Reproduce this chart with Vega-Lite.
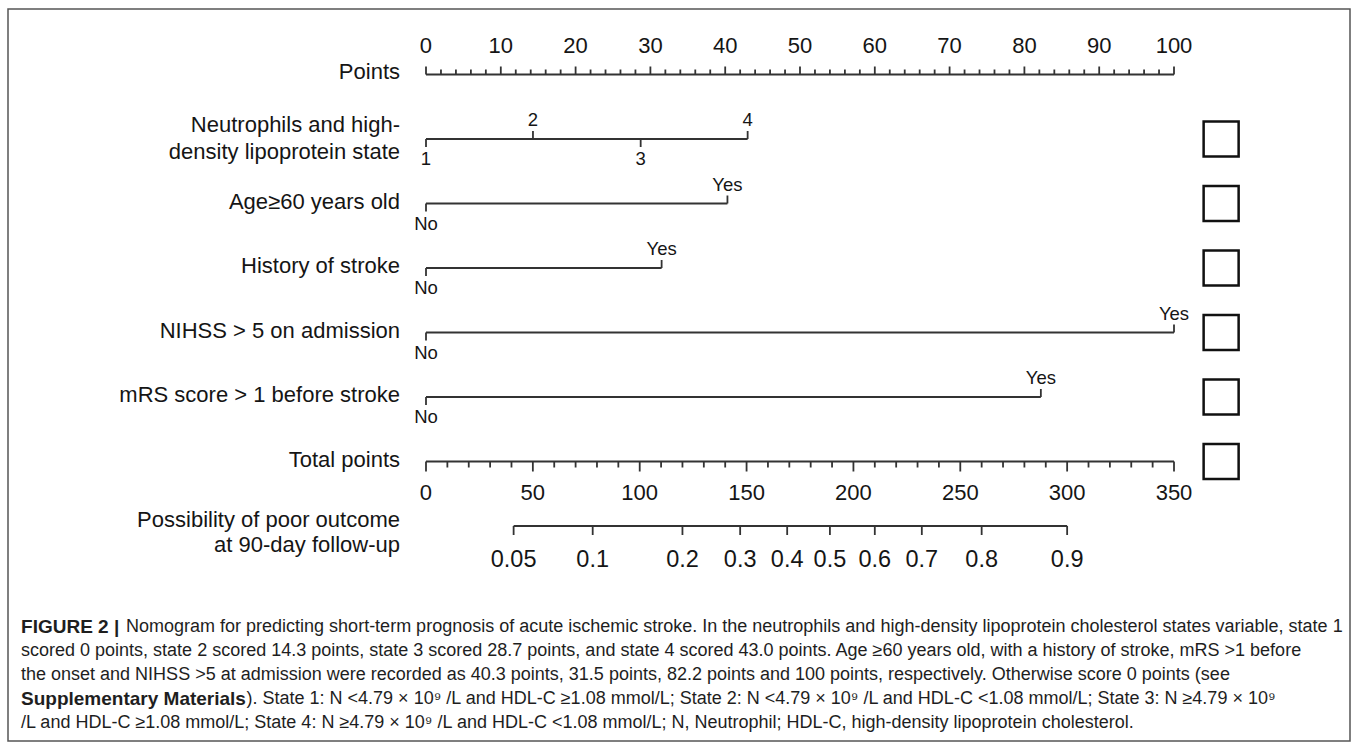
{
  "$schema": "https://vega.github.io/schema/vega-lite/v6.json",
  "width": 1342,
  "height": 732,
  "autosize": {"type": "none"},
  "padding": {"left": 8, "top": 9, "right": 7, "bottom": 3},
  "background": "white",
  "config": {"view": {"stroke": "#555555", "strokeWidth": 1.5}, "text": {"font": "Liberation Sans", "color": "#151515"}},
  "datasets": {
    "rows": [
      {"row": 0, "label": "Points"},
      {"row": 1, "label": "Neutrophils and high-\ndensity lipoprotein state"},
      {"row": 2, "label": "Age≥60 years old"},
      {"row": 3, "label": "History of stroke"},
      {"row": 4, "label": "NIHSS > 5 on admission"},
      {"row": 5, "label": "mRS score > 1 before stroke"},
      {"row": 6, "label": "Total points"},
      {"row": 7, "label": "Possibility of poor outcome\nat 90-day follow-up"}
    ],
    "segP": [
      {"row": 0, "start": 0, "end": 100},
      {"row": 1, "start": 0, "end": 43.0},
      {"row": 2, "start": 0, "end": 40.3},
      {"row": 3, "start": 0, "end": 31.5},
      {"row": 4, "start": 0, "end": 100},
      {"row": 5, "start": 0, "end": 82.2}
    ],
    "segT": [
      {"row": 6, "start": 0, "end": 350},
      {"row": 7, "start": 41, "end": 300}
    ],
    "ptsTicks": [
      {"v": 0}, {"v": 2}, {"v": 4}, {"v": 6}, {"v": 8}, {"v": 10}, {"v": 12}, {"v": 14}, {"v": 16}, {"v": 18},
      {"v": 20}, {"v": 22}, {"v": 24}, {"v": 26}, {"v": 28}, {"v": 30}, {"v": 32}, {"v": 34}, {"v": 36}, {"v": 38},
      {"v": 40}, {"v": 42}, {"v": 44}, {"v": 46}, {"v": 48}, {"v": 50}, {"v": 52}, {"v": 54}, {"v": 56}, {"v": 58},
      {"v": 60}, {"v": 62}, {"v": 64}, {"v": 66}, {"v": 68}, {"v": 70}, {"v": 72}, {"v": 74}, {"v": 76}, {"v": 78},
      {"v": 80}, {"v": 82}, {"v": 84}, {"v": 86}, {"v": 88}, {"v": 90}, {"v": 92}, {"v": 94}, {"v": 96}, {"v": 98},
      {"v": 100}
    ],
    "totTicks": [
      {"v": 0}, {"v": 10}, {"v": 20}, {"v": 30}, {"v": 40}, {"v": 50}, {"v": 60}, {"v": 70}, {"v": 80}, {"v": 90},
      {"v": 100}, {"v": 110}, {"v": 120}, {"v": 130}, {"v": 140}, {"v": 150}, {"v": 160}, {"v": 170}, {"v": 180}, {"v": 190},
      {"v": 200}, {"v": 210}, {"v": 220}, {"v": 230}, {"v": 240}, {"v": 250}, {"v": 260}, {"v": 270}, {"v": 280}, {"v": 290},
      {"v": 300}, {"v": 310}, {"v": 320}, {"v": 330}, {"v": 340}, {"v": 350}
    ],
    "prob": [
      {"p": "0.05", "total": 41},
      {"p": "0.1", "total": 78},
      {"p": "0.2", "total": 120},
      {"p": "0.3", "total": 147},
      {"p": "0.4", "total": 169},
      {"p": "0.5", "total": 189},
      {"p": "0.6", "total": 210},
      {"p": "0.7", "total": 232},
      {"p": "0.8", "total": 260},
      {"p": "0.9", "total": 300}
    ],
    "levels": [
      {"row": 1, "lab": "1", "pts": 0, "side": "below"},
      {"row": 1, "lab": "2", "pts": 14.3, "side": "above"},
      {"row": 1, "lab": "3", "pts": 28.7, "side": "below"},
      {"row": 1, "lab": "4", "pts": 43.0, "side": "above"},
      {"row": 2, "lab": "No", "pts": 0, "side": "below"},
      {"row": 2, "lab": "Yes", "pts": 40.3, "side": "above"},
      {"row": 3, "lab": "No", "pts": 0, "side": "below"},
      {"row": 3, "lab": "Yes", "pts": 31.5, "side": "above"},
      {"row": 4, "lab": "No", "pts": 0, "side": "below"},
      {"row": 4, "lab": "Yes", "pts": 100, "side": "above"},
      {"row": 5, "lab": "No", "pts": 0, "side": "below"},
      {"row": 5, "lab": "Yes", "pts": 82.2, "side": "above"}
    ],
    "caption": [
      {"line": 0, "part": "lead", "text": "FIGURE 2 |"},
      {"line": 0, "part": "rest", "text": "Nomogram for predicting short-term prognosis of acute ischemic stroke. In the neutrophils and high-density lipoprotein cholesterol states variable, state 1"},
      {"line": 1, "part": "full", "text": "scored 0 points, state 2 scored 14.3 points, state 3 scored 28.7 points, and state 4 scored 43.0 points. Age ≥60 years old, with a history of stroke, mRS >1 before"},
      {"line": 2, "part": "full", "text": "the onset and NIHSS >5 at admission were recorded as 40.3 points, 31.5 points, 82.2 points and 100 points, respectively. Otherwise score 0 points (see"},
      {"line": 3, "part": "lead", "text": "Supplementary Materials"},
      {"line": 3, "part": "rest", "text": "). State 1: N <4.79 × 10⁹ /L and HDL-C ≥1.08 mmol/L; State 2: N <4.79 × 10⁹ /L and HDL-C <1.08 mmol/L; State 3: N ≥4.79 × 10⁹"},
      {"line": 4, "part": "full", "text": "/L and HDL-C ≥1.08 mmol/L; State 4: N ≥4.79 × 10⁹ /L and HDL-C <1.08 mmol/L; N, Neutrophil; HDL-C, high-density lipoprotein cholesterol."}
    ]
  },
  "layer": [
    {
      "data": {"name": "rows"},
      "transform": [{"filter": "datum.row != 1 && datum.row != 7"}],
      "mark": {"type": "text", "align": "right", "baseline": "middle", "dx": -26, "dy": -2, "fontSize": 22},
      "encoding": {
        "x": {"datum": 0, "type": "quantitative", "scale": {"domain": [-55.882, 123.529]}, "axis": null},
        "y": {"field": "row", "type": "quantitative", "scale": {"domain": [-1.0155, 10.3333], "reverse": true}, "axis": null},
        "text": {"field": "label"}
      }
    },
    {
      "data": {"name": "rows"},
      "transform": [{"filter": "datum.row == 1"}],
      "mark": {"type": "text", "align": "right", "baseline": "middle", "dx": -26, "dy": -14, "fontSize": 22, "lineBreak": "\n", "lineHeight": 27},
      "encoding": {
        "x": {"datum": 0, "type": "quantitative", "scale": {"domain": [-55.882, 123.529]}, "axis": null},
        "y": {"field": "row", "type": "quantitative", "scale": {"domain": [-1.0155, 10.3333], "reverse": true}, "axis": null},
        "text": {"field": "label"}
      }
    },
    {
      "data": {"name": "rows"},
      "transform": [{"filter": "datum.row == 7"}],
      "mark": {"type": "text", "align": "right", "baseline": "middle", "dx": -26, "dy": -6, "fontSize": 22, "lineBreak": "\n", "lineHeight": 25},
      "encoding": {
        "x": {"datum": 0, "type": "quantitative", "scale": {"domain": [-55.882, 123.529]}, "axis": null},
        "y": {"field": "row", "type": "quantitative", "scale": {"domain": [-1.0155, 10.3333], "reverse": true}, "axis": null},
        "text": {"field": "label"}
      }
    },
    {
      "data": {"name": "segP"},
      "mark": {"type": "rule", "color": "#333333", "strokeWidth": 2},
      "encoding": {
        "x": {"field": "start", "type": "quantitative", "scale": {"domain": [-55.882, 123.529]}, "axis": null},
        "x2": {"field": "end"},
        "y": {"field": "row", "type": "quantitative", "scale": {"domain": [-1.0155, 10.3333], "reverse": true}, "axis": null}
      }
    },
    {
      "data": {"name": "segT"},
      "mark": {"type": "rule", "color": "#333333", "strokeWidth": 2},
      "encoding": {
        "x": {"field": "start", "type": "quantitative", "scale": {"domain": [-195.587, 432.353]}, "axis": null},
        "x2": {"field": "end"},
        "y": {"field": "row", "type": "quantitative", "scale": {"domain": [-1.0155, 10.3333], "reverse": true}, "axis": null}
      }
    },
    {
      "data": {"name": "ptsTicks"},
      "transform": [{"filter": "datum.v % 10 == 0"}],
      "mark": {"type": "rule", "color": "#333333", "strokeWidth": 1.8, "y2Offset": -8},
      "encoding": {
        "x": {"field": "v", "type": "quantitative", "scale": {"domain": [-55.882, 123.529]}, "axis": null},
        "y": {"datum": 0, "type": "quantitative", "scale": {"domain": [-1.0155, 10.3333], "reverse": true}, "axis": null},
        "y2": {"datum": 0}
      }
    },
    {
      "data": {"name": "ptsTicks"},
      "transform": [{"filter": "datum.v % 10 != 0"}],
      "mark": {"type": "rule", "color": "#333333", "strokeWidth": 1.8, "y2Offset": -5},
      "encoding": {
        "x": {"field": "v", "type": "quantitative", "scale": {"domain": [-55.882, 123.529]}, "axis": null},
        "y": {"datum": 0, "type": "quantitative", "scale": {"domain": [-1.0155, 10.3333], "reverse": true}, "axis": null},
        "y2": {"datum": 0}
      }
    },
    {
      "data": {"name": "ptsTicks"},
      "transform": [{"filter": "datum.v % 10 == 0"}],
      "mark": {"type": "text", "align": "center", "baseline": "middle", "dy": -28, "fontSize": 22},
      "encoding": {
        "x": {"field": "v", "type": "quantitative", "scale": {"domain": [-55.882, 123.529]}, "axis": null},
        "y": {"datum": 0, "type": "quantitative", "scale": {"domain": [-1.0155, 10.3333], "reverse": true}, "axis": null},
        "text": {"field": "v"}
      }
    },
    {
      "data": {"name": "totTicks"},
      "transform": [{"filter": "datum.v % 50 == 0"}],
      "mark": {"type": "rule", "color": "#333333", "strokeWidth": 1.8, "y2Offset": 10},
      "encoding": {
        "x": {"field": "v", "type": "quantitative", "scale": {"domain": [-195.587, 432.353]}, "axis": null},
        "y": {"datum": 6, "type": "quantitative", "scale": {"domain": [-1.0155, 10.3333], "reverse": true}, "axis": null},
        "y2": {"datum": 6}
      }
    },
    {
      "data": {"name": "totTicks"},
      "transform": [{"filter": "datum.v % 50 != 0"}],
      "mark": {"type": "rule", "color": "#333333", "strokeWidth": 1.8, "y2Offset": 6},
      "encoding": {
        "x": {"field": "v", "type": "quantitative", "scale": {"domain": [-195.587, 432.353]}, "axis": null},
        "y": {"datum": 6, "type": "quantitative", "scale": {"domain": [-1.0155, 10.3333], "reverse": true}, "axis": null},
        "y2": {"datum": 6}
      }
    },
    {
      "data": {"name": "totTicks"},
      "transform": [{"filter": "datum.v % 50 == 0"}],
      "mark": {"type": "text", "align": "center", "baseline": "middle", "dy": 31, "fontSize": 22},
      "encoding": {
        "x": {"field": "v", "type": "quantitative", "scale": {"domain": [-195.587, 432.353]}, "axis": null},
        "y": {"datum": 6, "type": "quantitative", "scale": {"domain": [-1.0155, 10.3333], "reverse": true}, "axis": null},
        "text": {"field": "v"}
      }
    },
    {
      "data": {"name": "prob"},
      "mark": {"type": "rule", "color": "#333333", "strokeWidth": 1.8, "y2Offset": 9},
      "encoding": {
        "x": {"field": "total", "type": "quantitative", "scale": {"domain": [-195.587, 432.353]}, "axis": null},
        "y": {"datum": 7, "type": "quantitative", "scale": {"domain": [-1.0155, 10.3333], "reverse": true}, "axis": null},
        "y2": {"datum": 7}
      }
    },
    {
      "data": {"name": "prob"},
      "mark": {"type": "text", "align": "center", "baseline": "middle", "dy": 34, "fontSize": 23.5},
      "encoding": {
        "x": {"field": "total", "type": "quantitative", "scale": {"domain": [-195.587, 432.353]}, "axis": null},
        "y": {"datum": 7, "type": "quantitative", "scale": {"domain": [-1.0155, 10.3333], "reverse": true}, "axis": null},
        "text": {"field": "p"}
      }
    },
    {
      "data": {"name": "levels"},
      "transform": [{"filter": "datum.side == 'above'"}],
      "mark": {"type": "rule", "color": "#333333", "strokeWidth": 1.8, "y2Offset": -8},
      "encoding": {
        "x": {"field": "pts", "type": "quantitative", "scale": {"domain": [-55.882, 123.529]}, "axis": null},
        "y": {"field": "row", "type": "quantitative", "scale": {"domain": [-1.0155, 10.3333], "reverse": true}, "axis": null},
        "y2": {"field": "row"}
      }
    },
    {
      "data": {"name": "levels"},
      "transform": [{"filter": "datum.side == 'below'"}],
      "mark": {"type": "rule", "color": "#333333", "strokeWidth": 1.8, "y2Offset": 8},
      "encoding": {
        "x": {"field": "pts", "type": "quantitative", "scale": {"domain": [-55.882, 123.529]}, "axis": null},
        "y": {"field": "row", "type": "quantitative", "scale": {"domain": [-1.0155, 10.3333], "reverse": true}, "axis": null},
        "y2": {"field": "row"}
      }
    },
    {
      "data": {"name": "levels"},
      "transform": [{"filter": "datum.side == 'above'"}],
      "mark": {"type": "text", "align": "center", "baseline": "middle", "dy": -19, "fontSize": 18.5},
      "encoding": {
        "x": {"field": "pts", "type": "quantitative", "scale": {"domain": [-55.882, 123.529]}, "axis": null},
        "y": {"field": "row", "type": "quantitative", "scale": {"domain": [-1.0155, 10.3333], "reverse": true}, "axis": null},
        "text": {"field": "lab"}
      }
    },
    {
      "data": {"name": "levels"},
      "transform": [{"filter": "datum.side == 'below'"}],
      "mark": {"type": "text", "align": "center", "baseline": "middle", "dy": 20, "fontSize": 18.5},
      "encoding": {
        "x": {"field": "pts", "type": "quantitative", "scale": {"domain": [-55.882, 123.529]}, "axis": null},
        "y": {"field": "row", "type": "quantitative", "scale": {"domain": [-1.0155, 10.3333], "reverse": true}, "axis": null},
        "text": {"field": "lab"}
      }
    },
    {
      "data": {"name": "rows"},
      "transform": [{"filter": "datum.row >= 1 && datum.row <= 6"}],
      "mark": {"type": "point", "shape": "square", "size": 1225, "filled": false, "stroke": "#111111", "strokeWidth": 2.5, "opacity": 1},
      "encoding": {
        "x": {"datum": 106.3, "type": "quantitative", "scale": {"domain": [-55.882, 123.529]}, "axis": null},
        "y": {"field": "row", "type": "quantitative", "scale": {"domain": [-1.0155, 10.3333], "reverse": true}, "axis": null}
      }
    },
    {
      "data": {"name": "caption"},
      "transform": [{"filter": "datum.part == 'lead'"}],
      "mark": {"type": "text", "align": "left", "baseline": "middle", "fontSize": 19, "fontWeight": "bold", "color": "#1e1e1e"},
      "encoding": {
        "x": {"datum": -54.14, "type": "quantitative", "scale": {"domain": [-55.882, 123.529]}, "axis": null},
        "y": {"field": "line", "type": "quantitative", "scale": {"domain": [-25.75, 4.75], "reverse": true}, "axis": null},
        "text": {"field": "text"}
      }
    },
    {
      "data": {"name": "caption"},
      "transform": [{"filter": "datum.part == 'full'"}],
      "mark": {"type": "text", "align": "left", "baseline": "middle", "fontSize": 18, "color": "#1e1e1e"},
      "encoding": {
        "x": {"datum": -54.14, "type": "quantitative", "scale": {"domain": [-55.882, 123.529]}, "axis": null},
        "y": {"field": "line", "type": "quantitative", "scale": {"domain": [-25.75, 4.75], "reverse": true}, "axis": null},
        "text": {"field": "text"}
      }
    },
    {
      "data": {"name": "caption"},
      "transform": [{"filter": "datum.part == 'rest' && datum.line == 0"}],
      "mark": {"type": "text", "align": "left", "baseline": "middle", "fontSize": 18, "dx": 105, "color": "#1e1e1e"},
      "encoding": {
        "x": {"datum": -54.14, "type": "quantitative", "scale": {"domain": [-55.882, 123.529]}, "axis": null},
        "y": {"field": "line", "type": "quantitative", "scale": {"domain": [-25.75, 4.75], "reverse": true}, "axis": null},
        "text": {"field": "text"}
      }
    },
    {
      "data": {"name": "caption"},
      "transform": [{"filter": "datum.part == 'rest' && datum.line == 3"}],
      "mark": {"type": "text", "align": "left", "baseline": "middle", "fontSize": 18, "dx": 225.5, "color": "#1e1e1e"},
      "encoding": {
        "x": {"datum": -54.14, "type": "quantitative", "scale": {"domain": [-55.882, 123.529]}, "axis": null},
        "y": {"field": "line", "type": "quantitative", "scale": {"domain": [-25.75, 4.75], "reverse": true}, "axis": null},
        "text": {"field": "text"}
      }
    }
  ],
  "resolve": {"scale": {"x": "independent", "y": "independent"}}
}
